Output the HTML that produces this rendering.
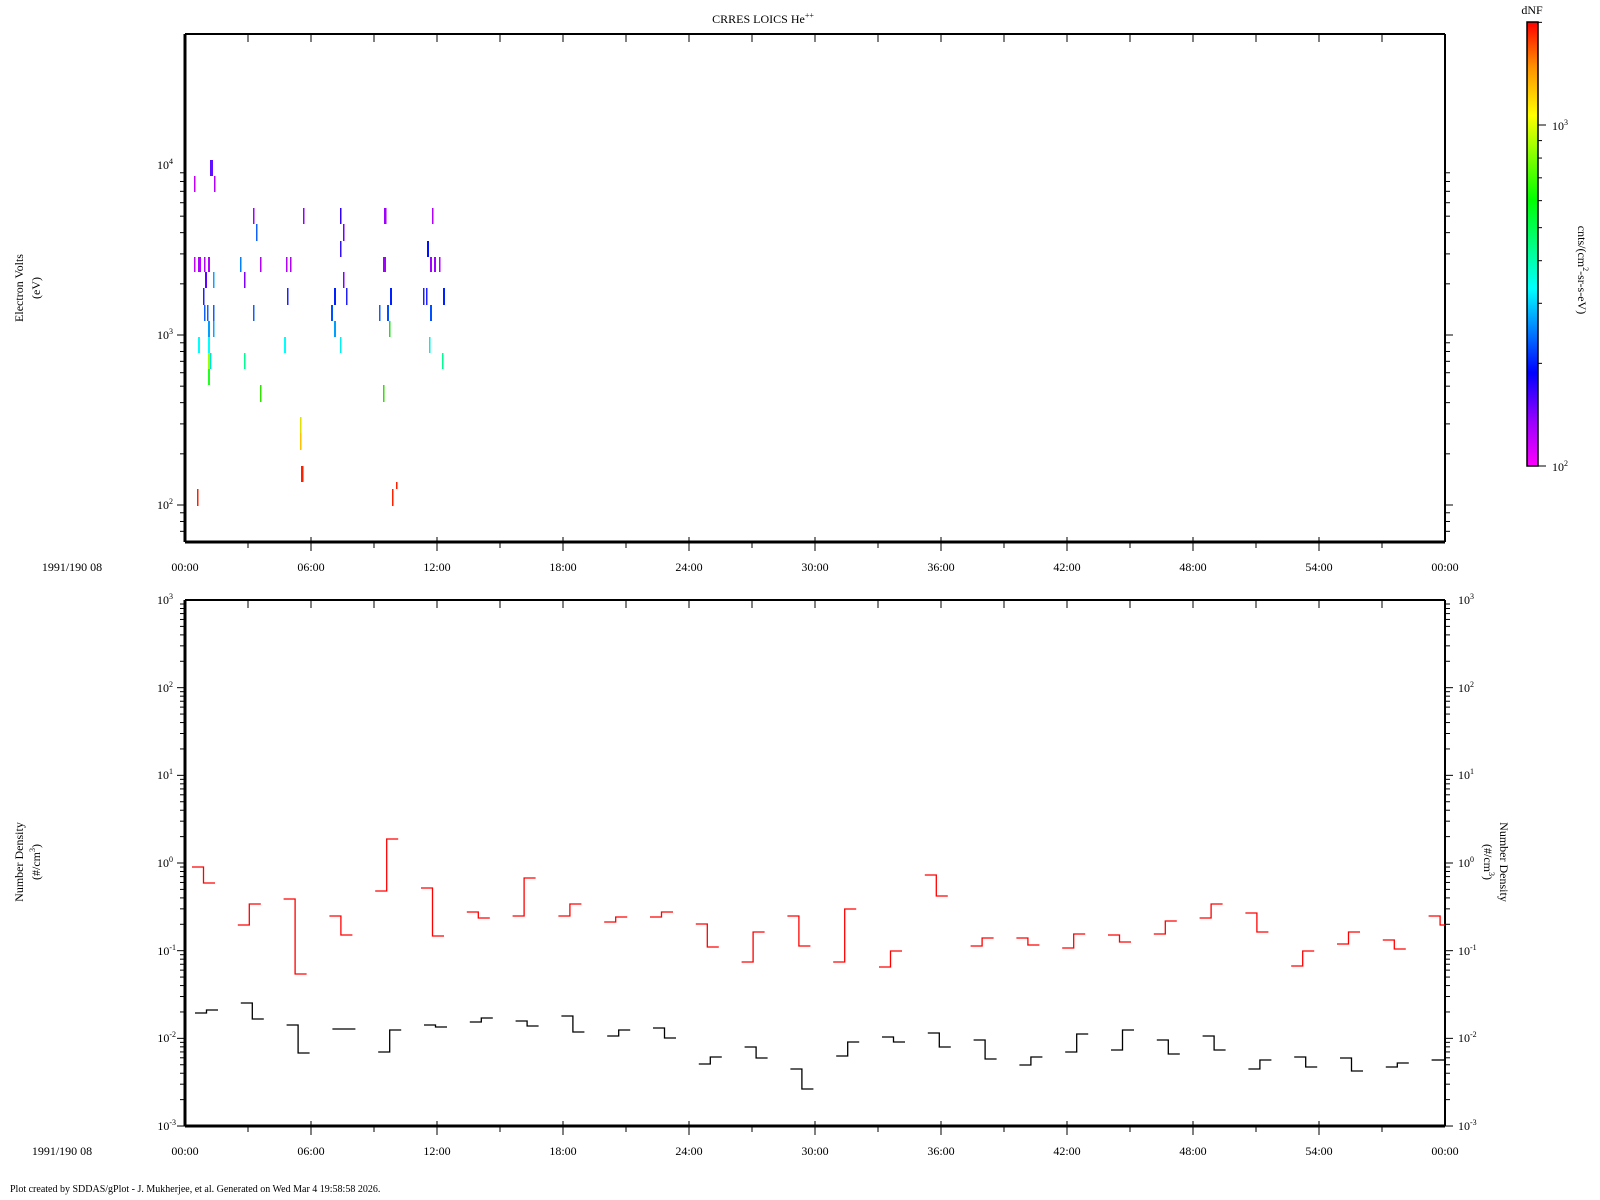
<!DOCTYPE html>
<html><head><meta charset="utf-8"><style>
body{margin:0;background:#fff;width:1600px;height:1200px;overflow:hidden}
svg{display:block}
text{font-family:"Liberation Serif",serif;fill:#000}
</style></head><body>
<svg id="s" width="1600" height="1200" viewBox="0 0 1600 1200" xmlns="http://www.w3.org/2000/svg">
<defs><linearGradient id="cb" x1="0" y1="1" x2="0" y2="0">
<stop offset="0" stop-color="#ff00ff"/><stop offset="0.1" stop-color="#9a00ff"/><stop offset="0.21" stop-color="#0000ff"/>
<stop offset="0.40" stop-color="#00ffff"/><stop offset="0.60" stop-color="#00ff00"/><stop offset="0.79" stop-color="#ffff00"/>
<stop offset="0.9" stop-color="#ff9000"/><stop offset="1" stop-color="#ff0000"/></linearGradient></defs>
<g id="g"></g>
<text x="763" y="23" font-size="12" text-anchor="middle">CRRES LOICS He<tspan font-size="8" dy="-5">++</tspan></text>
<text x="1532" y="14" font-size="12" text-anchor="middle">dNF</text>
<rect x="1527" y="22" width="11" height="444" fill="url(#cb)" stroke="#000" stroke-width="1.5"/>
<text x="1552" y="130" font-size="12">10<tspan font-size="8" dy="-5">3</tspan></text>
<text x="1552" y="471" font-size="12">10<tspan font-size="8" dy="-5">2</tspan></text>
<text transform="translate(1578,270) rotate(90)" font-size="12" text-anchor="middle">cnts/(cm<tspan font-size="8" dy="-5">2</tspan><tspan dy="5">-sr-s-eV)</tspan></text>
<text transform="translate(23,288) rotate(-90)" font-size="12" text-anchor="middle">Electron Volts</text>
<text transform="translate(40,288) rotate(-90)" font-size="12" text-anchor="middle">(eV)</text>
<text transform="translate(23,862) rotate(-90)" font-size="12" text-anchor="middle">Number Density</text>
<text transform="translate(40,862) rotate(-90)" font-size="12" text-anchor="middle">(#/cm<tspan font-size="8" dy="-5">3</tspan><tspan dy="5">)</tspan></text>
<text transform="translate(1500,862) rotate(90)" font-size="12" text-anchor="middle">Number Density</text>
<text transform="translate(1484,862) rotate(90)" font-size="12" text-anchor="middle">(#/cm<tspan font-size="8" dy="-5">3</tspan><tspan dy="5">)</tspan></text>
<g font-size="12" text-anchor="end">
<text x="173" y="169">10<tspan font-size="8" dy="-5">4</tspan></text>
<text x="173" y="339">10<tspan font-size="8" dy="-5">3</tspan></text>
<text x="173" y="509">10<tspan font-size="8" dy="-5">2</tspan></text>
<text x="173" y="604">10<tspan font-size="8" dy="-5">3</tspan></text>
<text x="173" y="692">10<tspan font-size="8" dy="-5">2</tspan></text>
<text x="173" y="779">10<tspan font-size="8" dy="-5">1</tspan></text>
<text x="173" y="867">10<tspan font-size="8" dy="-5">0</tspan></text>
<text x="176" y="955">10<tspan font-size="8" dy="-5">-1</tspan></text>
<text x="176" y="1042">10<tspan font-size="8" dy="-5">-2</tspan></text>
<text x="176" y="1130">10<tspan font-size="8" dy="-5">-3</tspan></text>
</g>
<g font-size="12">
<text x="1458" y="604">10<tspan font-size="8" dy="-5">3</tspan></text>
<text x="1458" y="692">10<tspan font-size="8" dy="-5">2</tspan></text>
<text x="1458" y="779">10<tspan font-size="8" dy="-5">1</tspan></text>
<text x="1458" y="867">10<tspan font-size="8" dy="-5">0</tspan></text>
<text x="1458" y="955">10<tspan font-size="8" dy="-5">-1</tspan></text>
<text x="1458" y="1042">10<tspan font-size="8" dy="-5">-2</tspan></text>
<text x="1458" y="1130">10<tspan font-size="8" dy="-5">-3</tspan></text>
</g>
<g font-size="12" text-anchor="middle">
<text x="72" y="571">1991/190 08</text>
<text x="185" y="571">00:00</text><text x="311" y="571">06:00</text><text x="437" y="571">12:00</text><text x="563" y="571">18:00</text><text x="689" y="571">24:00</text><text x="815" y="571">30:00</text><text x="941" y="571">36:00</text><text x="1067" y="571">42:00</text><text x="1193" y="571">48:00</text><text x="1319" y="571">54:00</text><text x="1445" y="571">00:00</text>
<text x="62" y="1155">1991/190 08</text>
<text x="185" y="1155">00:00</text><text x="311" y="1155">06:00</text><text x="437" y="1155">12:00</text><text x="563" y="1155">18:00</text><text x="689" y="1155">24:00</text><text x="815" y="1155">30:00</text><text x="941" y="1155">36:00</text><text x="1067" y="1155">42:00</text><text x="1193" y="1155">48:00</text><text x="1319" y="1155">54:00</text><text x="1445" y="1155">00:00</text>
</g>
<text x="10" y="1192" font-size="10">Plot created by SDDAS/gPlot - J. Mukherjee, et al.  Generated on Wed Mar 4 19:58:58 2026.</text>
</svg>
<script>
var g=document.getElementById('g'),h='';
function L(x1,y1,x2,y2,c,w){h+='<line x1="'+x1+'" y1="'+y1+'" x2="'+x2+'" y2="'+y2+'" stroke="'+(c||'#000')+'" stroke-width="'+(w||1)+'"/>';}
var X0=185,X1=1445;
// panel frames
function frame(t,b){
 L(X0,t,X1,t,'#000',2);L(X1,t,X1,b,'#000',2);L(X0,b,X1,b,'#000',3);L(X0,t,X0,b,'#000',3);
 for(var k=1;k<20;k++){var x=X0+k*63;L(x,t,x,t+8);
   if(k%2==0)L(x,b-5,x,b+9);else L(x,b,x,b+6);}
}
frame(34,542);frame(600,1126);
// log ticks
function logt(top,ppd,lo,hi,t,b,cb){
 for(var d=lo;d<hi;d++)for(var m=1;m<10;m++){
  var v=d+Math.log10(m);var y=top+(hi-v)*ppd; if(y<t-0.5||y>b+0.5)continue;
  var len=m==1?8:5; L(X0-len,y,X0,y); L(X1,y,X1+len,y);
 }
}
logt(165,170,1,5,34,542);
logt(600,87.67,-3,3,600,1126);
// recompute first for top: top ref 10^4 at y165
// colorbar ticks
for(var d=2;d<4;d++)for(var m=1;m<10;m++){var v=d+Math.log10(m);var y=125+(3-v)*341;if(y<22||y>466)continue;L(1538,y,1538+(m==1?8:4),y);}
// spectrogram bars: [x,w,y1,y2,color]
var rows=[160,176,192,208,224,241,257,272,288,305,321,337,353,369,385,402,417,433,450,466,482,489,506];
var B=[
[210,3,0,'#6010ff'],[194,1.5,1,'#c000ff'],[214,1.5,1,'#b000ff'],
[253,1.5,3,'#a000ff'],[303,1.5,3,'#9000ff'],[340,1.5,3,'#3000ff'],[384,2.5,3,'#a000ff'],[432,1.5,3,'#b000ff'],
[256,1.5,4,'#1060ff'],[343,1.5,4,'#7000ff'],
[340,1.5,5,'#3010ff'],[427,2,5,'#0010ff'],
[194,1.5,6,'#c000ff'],[198,3,6,'#b000ff'],[204,1.5,6,'#b000ff'],[208,2,6,'#b000ff'],[240,1.5,6,'#0080ff'],[260,1.5,6,'#b000ff'],[286,1.5,6,'#b000ff'],[290,1.5,6,'#b000ff'],[383,3,6,'#a000ff'],[430,2,6,'#a000ff'],[434,2,6,'#a000ff'],[439,1.5,6,'#b000ff'],
[205,2,7,'#6000ff'],[213,1.5,7,'#10a0ff'],[244,1.5,7,'#8000ff'],[343,1.5,7,'#8000ff'],
[203,1.5,8,'#2020ff'],[287,1.5,8,'#2020ff'],[334,2,8,'#0020ff'],[346,1.5,8,'#2020ff'],[390,2,8,'#0020ff'],[423,1.5,8,'#2020ff'],[426,1.5,8,'#2020ff'],[443,2,8,'#0020ff'],
[204,1.5,9,'#1060ff'],[207,1.5,9,'#1060ff'],[213,1.5,9,'#1060ff'],[253,1.5,9,'#1060ff'],[331,2,9,'#0050ff'],[379,1.5,9,'#1060ff'],[387,2,9,'#0050ff'],[430,2,9,'#0050ff'],
[208,2,10,'#00a0ff'],[213,1.5,10,'#10a0ff'],[334,2,10,'#00a0ff'],[389,1.5,10,'#20e020'],
[198,2,11,'#00ffff'],[208,2,11,'#00ffff'],[284,2,11,'#00ffff'],[340,1.5,11,'#00f0f0'],[429,1.5,11,'#00f0e0'],
[208,2,12,'#a0ff00'],[210,1.5,12,'#00e0e0'],[244,1.5,12,'#00ff90'],[442,1.5,12,'#00ff90'],
[208,2,13,'#20ff20'],
[260,1.5,14,'#30e000'],[383,1.5,14,'#30e000'],
[300,1.5,16,'#e0e000'],[300,1.5,17,'#ffc000'],
[301,2.5,19,'#ff2000'],[396,1.5,20,'#ff2000'],[197,1.5,21,'#ff2000'],[392,1.5,21,'#ff2000']];
B.forEach(function(b){h+='<rect x="'+b[0]+'" y="'+rows[b[2]]+'" width="'+b[1]+'" height="'+(rows[b[2]+1]-rows[b[2]])+'" fill="'+b[3]+'"/>';});
// step series
var R=[[867,883],[925,904],[899,974],[916,935],[891,839],[888,936],[912,918],[916,878],[916,904],[922,917],[917,912],[924,947],[962,932],[916,946],[962,909],[967,951],[875,896],[946,938],[938,945],[948,934],[935,942],[934,921],[918,904],[913,932],[966,951],[944,932],[940,949],[916,925]];
var K=[[1013,1010],[1003,1019],[1025,1053],[1029,1029],[1052,1030],[1025,1027],[1022,1018],[1021,1026],[1016,1032],[1036,1030],[1028,1038],[1064,1057],[1047,1058],[1069,1089],[1056,1042],[1037,1042],[1033,1047],[1040,1059],[1065,1057],[1052,1034],[1050,1030],[1040,1054],[1036,1050],[1069,1060],[1057,1067],[1058,1071],[1067,1063],[1060,1060]];
function steps(D,x0,c){D.forEach(function(p,k){var x=x0+k*45.8,xm=Math.min(x+11.5,X1),xe=Math.min(x+23,X1);
 if(x>=X1)return;
 h+='<polyline fill="none" stroke="'+c+'" stroke-width="1.3" points="'+x+','+p[0]+' '+xm+','+p[0]+' '+xm+','+p[1]+' '+xe+','+p[1]+'"/>';});}
steps(R,192,'#ff0000');steps(K,195,'#000');
g.innerHTML=h;
</script>
</body></html>
